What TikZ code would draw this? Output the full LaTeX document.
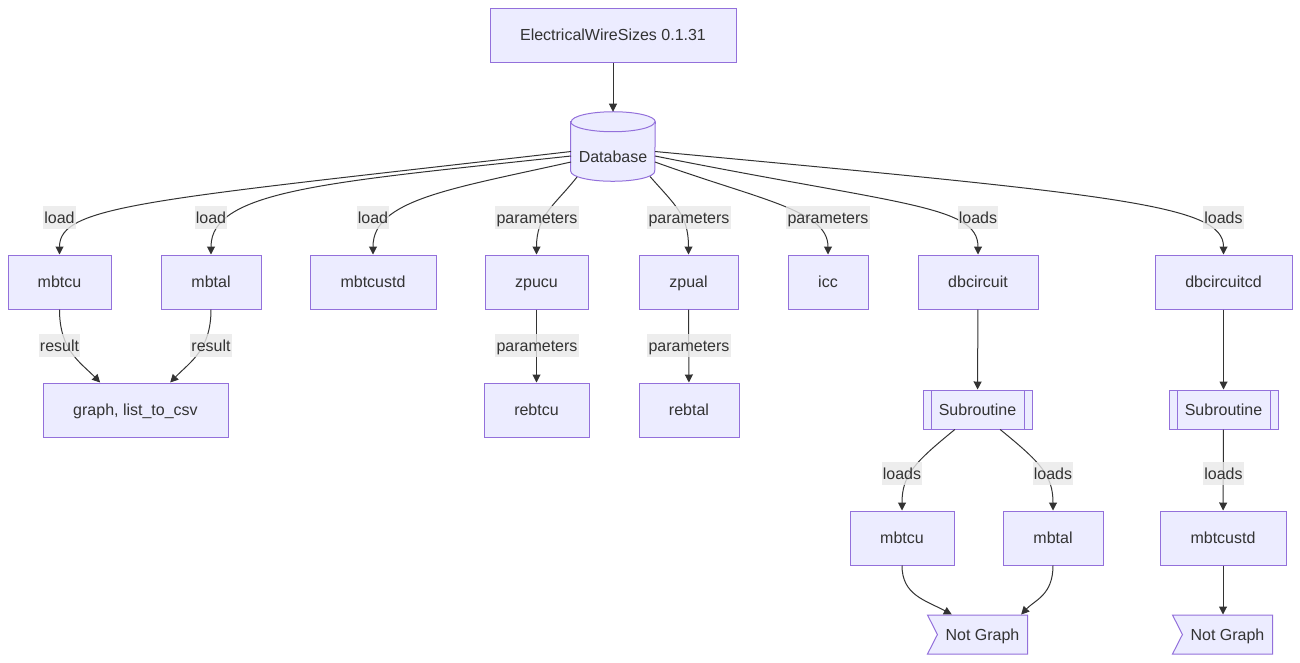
\documentclass[tikz,border=0pt]{standalone}
\usepackage{fontspec}
\setmainfont{Liberation Sans}
\usetikzlibrary{arrows.meta,shapes.symbols}
\definecolor{boxfill}{HTML}{ECECFF}
\definecolor{boxline}{HTML}{9370DB}
\definecolor{ink}{HTML}{333333}
\definecolor{tagfill}{HTML}{E8E8E8}
\tikzset{
  box/.style={draw=boxline, fill=boxfill, line width=0.75pt, minimum height=40.5pt, inner sep=2pt},
  subbox/.style={box, minimum height=29.25pt,
    path picture={
      \draw[boxline, line width=0.75pt] ([xshift=6pt]path picture bounding box.north west) -- ([xshift=6pt]path picture bounding box.south west);
      \draw[boxline, line width=0.75pt] ([xshift=-6pt]path picture bounding box.north east) -- ([xshift=-6pt]path picture bounding box.south east);
    }},
  flag/.style={box, signal, signal from=west, signal to=nowhere, signal pointer angle=126, minimum height=29.25pt, anchor=east},
  link/.style={draw=ink, line width=0.75pt, -{Triangle[length=6pt,width=6pt]}},
  tag/.style={fill=tagfill, fill opacity=0.8, text opacity=1, inner xsep=1pt, inner ysep=0pt, minimum height=17.25pt},
  every node/.style={text=ink, font=\fontsize{12}{14}\selectfont, text height=8.8pt, text depth=0pt}
}

\begin{document}
\begin{tikzpicture}[x=0.75pt, y=-0.75pt]
  \useasboundingbox (0,0) rectangle (1300,662);

  % title and database
  \node[box, minimum width=184.5pt] (title) at (613,35) {ElectricalWireSizes 0.1.31};
  \node[minimum width=63pt, minimum height=51.75pt, inner sep=0pt] (db) at (613,146.5) {};
  \filldraw[draw=boxline, fill=boxfill, line width=0.75pt]
    ([yshift=-7.5pt]db.north west) -- ([yshift=7.5pt]db.south west)
    arc[start angle=180, end angle=360, x radius=31.5pt, y radius=7.5pt]
    -- ([yshift=-7.5pt]db.north east)
    arc[start angle=0, end angle=180, x radius=31.5pt, y radius=7.5pt] -- cycle;
  \draw[boxline, line width=0.75pt] ([yshift=-7.5pt]db.north west)
    arc[start angle=180, end angle=360, x radius=31.5pt, y radius=7.5pt];
  \node (dbtext) at ([yshift=-7.5pt]db.center) {Database};

  % first row
  \node[box, minimum width=77.25pt] (mbtcu) at (59.5,282) {mbtcu};
  \node[box, minimum width=75pt] (mbtal) at (211,282) {mbtal};
  \node[box, minimum width=94.5pt] (mbtcustd) at (373,282) {mbtcustd};
  \node[box, minimum width=77.25pt] (zpucu) at (536.5,282) {zpucu};
  \node[box, minimum width=74.25pt] (zpual) at (688.5,282) {zpual};
  \node[box, minimum width=60pt] (icc) at (828,282) {icc};
  \node[box, minimum width=90pt] (dbcircuit) at (978,282) {dbcircuit};
  \node[box, minimum width=102.75pt] (dbcircuitcd) at (1223.5,282) {dbcircuitcd};

  % second row
  \node[box, minimum width=138.75pt] (graph) at (135.5,410) {graph, list\_to\_csv};
  \node[box, minimum width=78.75pt] (rebtcu) at (536.5,410) {rebtcu};
  \node[box, minimum width=75pt] (rebtal) at (689,410) {rebtal};
  \node[subbox, minimum width=81.75pt] (sub1) at (977.5,409.5) {Subroutine};
  \node[subbox, minimum width=81.75pt] (sub2) at (1223.5,409.5) {Subroutine};

  % circuit rows
  \node[box, minimum width=78pt] (mbtcu3) at (902,538) {mbtcu};
  \node[box, minimum width=75pt] (mbtal3) at (1053,538) {mbtal};
  \node[box, minimum width=94.5pt] (mbtcustd3) at (1223,538) {mbtcustd};
  \node[flag, minimum width=75pt] (ng1) at (1028,634.5) {Not Graph};
  \node[flag, minimum width=75pt] (ng2) at (1273,634.5) {Not Graph};

  % connectors
  \draw[link] (title) -- (db);
  \draw[link] ([shift={(-42,5)}]db.center) .. controls (150,200) and (59.5,205) .. (mbtcu.north);
  \draw[link] ([shift={(-42,9.5)}]db.center) .. controls (330,182) and (211,190) .. (mbtal.north);
  \draw[link] ([shift={(-42,15.5)}]db.center) .. controls (450,189) and (373,200) .. (mbtcustd.north);
  \draw[link] ([shift={(-36,30.5)}]db.center) .. controls (555,205) and (536.5,215) .. (zpucu.north);
  \draw[link] ([shift={(37,30)}]db.center) .. controls (675,205) and (688.5,215) .. (zpual.north);
  \draw[link] ([shift={(42,15.5)}]db.center) .. controls (760,200) and (828,210) .. (icc.north);
  \draw[link] ([shift={(42,9.5)}]db.center) .. controls (900,205) and (978,205) .. (dbcircuit.north);
  \draw[link] ([shift={(42,5)}]db.center) .. controls (1120,195) and (1223.5,205) .. (dbcircuitcd.north);

  \draw[link] (mbtcu.south) .. controls (59.5,350) and (80,362) .. ([xshift=-26.5pt]graph.north);
  \draw[link] (mbtal.south) .. controls (211,350) and (190,362) .. ([xshift=26pt]graph.north);
  \draw[link] (zpucu) -- (rebtcu);
  \draw[link] (zpual) -- (rebtal);
  \draw[link] (dbcircuit) -- (sub1);
  \draw[link] (dbcircuitcd) -- (sub2);

  \draw[link] ([xshift=-17pt]sub1.south) .. controls (915,462) and (902,475) .. (mbtcu3.north);
  \draw[link] ([xshift=17pt]sub1.south) .. controls (1040,462) and (1053,475) .. (mbtal3.north);
  \draw[link] (sub2) -- (mbtcustd3);
  \draw[link] (mbtcu3.south) .. controls (902,595) and (925,600) .. ([xshift=-23pt]ng1.north);
  \draw[link] (mbtal3.south) .. controls (1053,595) and (1035,600) .. ([xshift=29pt]ng1.north);
  \draw[link] (mbtcustd3) -- (mbtcustd3 |- ng2.north);

  % edge labels
  \node[tag] (t1) at (59.5,217.5) {load};
  \node[tag] (t2) at (211,217.5) {load};
  \node[tag] (t3) at (373,217.5) {load};
  \node[tag] (t4) at (537,217.5) {parameters};
  \node[tag] (t5) at (689,217.5) {parameters};
  \node[tag] (t6) at (828,217.5) {parameters};
  \node[tag] (t7) at (978,217.5) {loads};
  \node[tag] (t8) at (1223.5,217.5) {loads};
  \node[tag] (t9) at (59.5,345.5) {result};
  \node[tag] (t10) at (211,345.5) {result};
  \node[tag] (t11) at (537,345.5) {parameters};
  \node[tag] (t12) at (689,345.5) {parameters};
  \node[tag] (t13) at (902,473.5) {loads};
  \node[tag] (t14) at (1053,473.5) {loads};
  \node[tag] (t15) at (1223.5,473.5) {loads};
\end{tikzpicture}
\end{document}
